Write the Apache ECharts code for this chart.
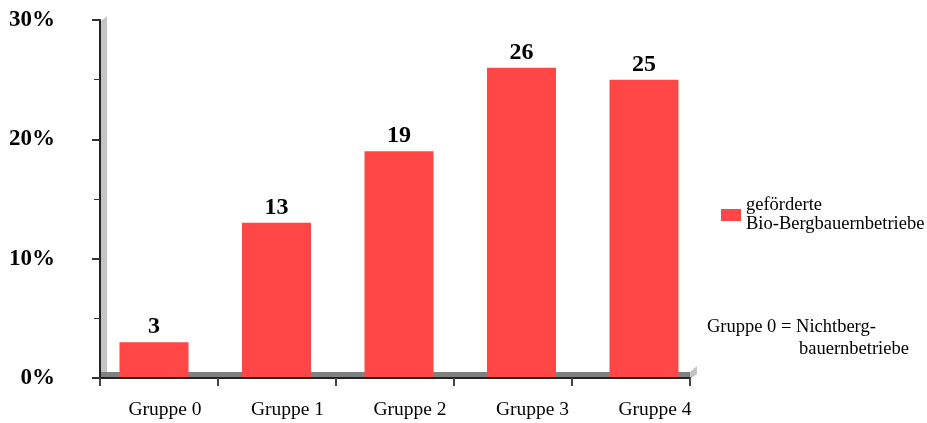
<!DOCTYPE html>
<html><head><meta charset="utf-8">
<script src="https://cdn.jsdelivr.net/npm/echarts@6/dist/echarts.min.js"></script>
<style>html,body{margin:0;padding:0;background:#fff}#c{width:927px;height:423px}</style>
</head><body><div id="c"></div>
<script>
const categories = ['Gruppe 0','Gruppe 1','Gruppe 2','Gruppe 3','Gruppe 4'];
const values = [3, 13, 19, 26, 25];
const seriesName = 'geförderte\nBio-Bergbauernbetriebe';
const yTicks = {min: 0, max: 30, interval: 10};
const noteLines = ['Gruppe 0 = Nichtberg-', 'bauernbetriebe'];

const FONT = '"Liberation Serif", "Times New Roman", serif';
const chart = echarts.init(document.getElementById('c'));
chart.setOption({
  animation: false,
  grid: [
    {left: 100, right: 237, top: 20, bottom: 45},
    {left: 92.75, width: 612.5, top: 20, bottom: 45}
  ],
  legend: {
    left: 716, top: 191, orient: 'vertical',
    icon: 'rect', itemWidth: 20, itemHeight: 12, itemGap: 4,
    textStyle: {fontFamily: FONT, fontSize: 18.5, lineHeight: 19, color: '#000'}
  },
  xAxis: [
    {type: 'category', gridIndex: 0, data: categories, z: 4,
     axisLine: {show: true, lineStyle: {color: '#222', width: 2}},
     axisTick: {show: true, length: 8, lineStyle: {color: '#444', width: 2}},
     axisLabel: {show: false}},
    {type: 'category', gridIndex: 1, data: categories,
     axisLine: {show: false}, axisTick: {show: false},
     axisLabel: {show: true, margin: 22, padding: [0, 0, 0, 22],
       fontFamily: FONT, fontSize: 19.5, color: '#000'}}
  ],
  yAxis: [
    {type: 'value', gridIndex: 0, min: yTicks.min, max: yTicks.max, interval: yTicks.interval, z: 4,
     axisLine: {show: true, lineStyle: {color: '#222', width: 2}},
     axisTick: {show: true, length: 8, lineStyle: {color: '#333', width: 2}},
     minorTick: {show: true, splitNumber: 2, length: 6, lineStyle: {color: '#333', width: 1}},
     splitLine: {show: false},
     axisLabel: {formatter: '{value}%', margin: 45, fontFamily: FONT, fontSize: 23,
       fontWeight: 'bold', color: '#000'}},
    {type: 'value', gridIndex: 1, min: yTicks.min, max: yTicks.max, interval: yTicks.interval,
     show: false}
  ],
  series: [{
    name: seriesName, type: 'bar', xAxisIndex: 1, yAxisIndex: 1,
    data: values, barWidth: 69, z: 3,
    itemStyle: {color: '#FF4747'},
    label: {show: true, position: 'top', distance: 3, fontFamily: FONT,
      fontSize: 24, fontWeight: 'bold', color: '#000'}
  }]
});

// 3D-like wall and floor decoration derived from axis scales
const c0 = chart.convertToPixel({xAxisIndex: 0}, categories[0]);
const c1 = chart.convertToPixel({xAxisIndex: 0}, categories[1]);
const cN = chart.convertToPixel({xAxisIndex: 0}, categories[categories.length - 1]);
const bw = c1 - c0;
const xL = c0 - bw / 2, xR = cN + bw / 2;
const yB = chart.convertToPixel({yAxisIndex: 0}, yTicks.min);
const yT = chart.convertToPixel({yAxisIndex: 0}, yTicks.max);
chart.setOption({
  graphic: [
    {type: 'polygon', z: 1, shape: {points: [[xL, yT + 2], [xL + 7, yT - 4], [xL + 7, yB], [xL, yB]]},
     style: {fill: '#c4c4c4'}},
    {type: 'rect', z: 1, shape: {x: xL, y: yB - 6, width: xR - xL, height: 6},
     style: {fill: '#808080'}},
    {type: 'polygon', z: 1, shape: {points: [[xR, yB - 6], [xR + 7, yB - 12], [xR + 7, yB - 4], [xR, yB + 1]]},
     style: {fill: '#c4c4c4'}},
    {type: 'text', left: 707, top: 318, style: {text: noteLines[0], font: '18.5px ' + FONT, fill: '#000'}},
    {type: 'text', left: 799, top: 340, style: {text: noteLines[1], font: '18.5px ' + FONT, fill: '#000'}}
  ]
});
</script></body></html>
